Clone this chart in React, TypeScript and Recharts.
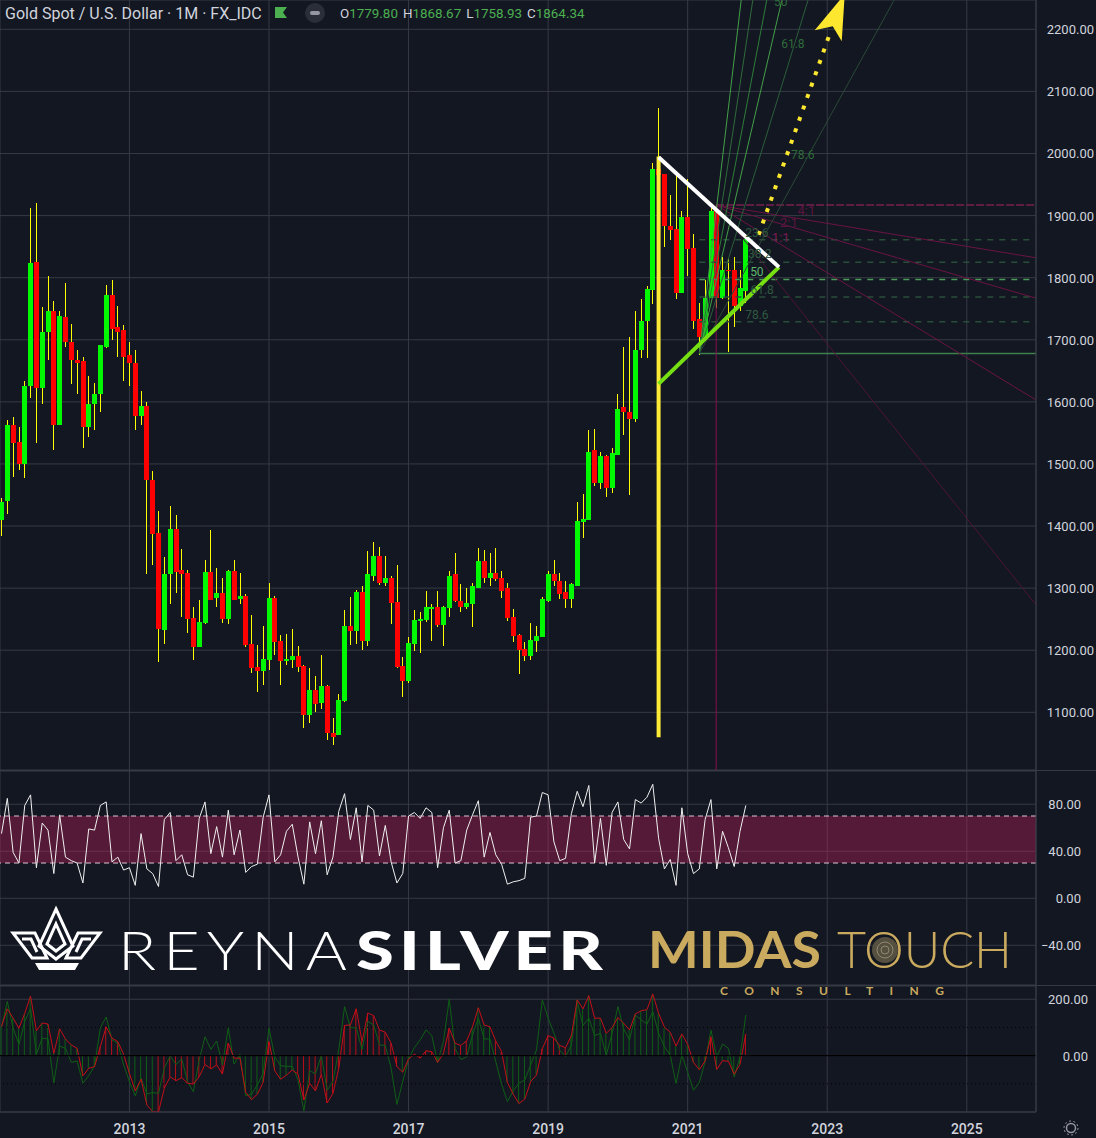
import React from 'react';
import {
  Bar,
  CartesianGrid,
  Cell,
  ComposedChart,
  Line,
  ReferenceArea,
  ReferenceDot,
  ReferenceLine,
  XAxis,
  YAxis,
} from 'recharts';

// monthly candles, Mar 2011 .. Nov 2021
const opens = [1410,1440,1563,1536,1500,1625,1825,1622,1712,1746,1563,1736,1697,1668,1665,1559,1596,1612,1689,1772,1720,1715,1675,1663,1578,1594,1474,1388,1233,1322,1395,1329,1324,1252,1205,1244,1326,1284,1292,1250,1327,1282,1287,1210,1173,1167,1184,1284,1215,1183,1184,1191,1175,1096,1136,1115,1143,1067,1063,1119,1239,1231,1293,1215,1320,1351,1308,1316,1277,1175,1151,1210,1247,1249,1266,1269,1240,1268,1322,1280,1269,1274,1301,1344,1317,1325,1316,1300,1253,1224,1202,1191,1215,1221,1280,1322,1312,1293,1282,1304,1407,1410,1523,1470,1512,1462,1515,1592,1584,1573,1684,1730,1780,1975,1967,1884,1878,1775,1897,1847,1734,1705,1767,1907,1768,1813,1813,1755,1778];
const highs = [1445,1570,1576,1559,1633,1912,1921,1752,1802,1763,1747,1791,1726,1683,1672,1641,1630,1692,1788,1796,1754,1723,1697,1684,1617,1600,1488,1424,1350,1433,1417,1363,1329,1270,1281,1346,1393,1332,1316,1330,1346,1324,1290,1257,1209,1239,1308,1287,1225,1226,1234,1207,1176,1172,1159,1193,1144,1091,1130,1265,1286,1297,1304,1359,1375,1367,1352,1320,1338,1189,1221,1265,1261,1296,1274,1296,1272,1327,1357,1306,1300,1308,1365,1362,1357,1365,1327,1309,1266,1226,1213,1244,1239,1285,1327,1346,1325,1311,1308,1439,1452,1555,1557,1520,1515,1525,1612,1689,1704,1747,1765,1786,1984,2074,1967,1933,1963,1907,1959,1871,1760,1797,1912,1917,1834,1831,1834,1813,1868];
const lows = [1384,1420,1479,1491,1478,1607,1533,1596,1667,1523,1563,1688,1628,1612,1526,1544,1555,1584,1686,1699,1673,1634,1626,1554,1562,1322,1338,1181,1210,1274,1292,1254,1228,1185,1205,1242,1281,1269,1244,1242,1281,1274,1205,1164,1133,1144,1168,1193,1144,1176,1172,1165,1075,1083,1101,1106,1055,1048,1063,1117,1209,1210,1200,1207,1311,1305,1303,1242,1172,1125,1148,1199,1196,1245,1215,1237,1207,1253,1277,1261,1266,1237,1301,1308,1303,1311,1284,1247,1213,1162,1183,1185,1197,1221,1277,1303,1282,1268,1268,1304,1381,1410,1465,1459,1446,1454,1515,1547,1450,1568,1670,1670,1757,1863,1849,1860,1765,1775,1802,1717,1676,1705,1767,1751,1765,1681,1721,1747,1759];
const closes = [1439,1563,1533,1500,1626,1823,1622,1713,1746,1563,1738,1696,1667,1663,1559,1597,1613,1691,1772,1718,1713,1673,1662,1578,1594,1474,1387,1234,1322,1396,1326,1322,1250,1205,1245,1326,1281,1292,1250,1327,1281,1287,1209,1172,1167,1186,1284,1213,1183,1186,1191,1173,1095,1136,1114,1143,1066,1061,1120,1239,1231,1294,1215,1322,1351,1308,1316,1276,1173,1151,1212,1249,1250,1269,1269,1240,1269,1320,1279,1269,1276,1303,1344,1317,1325,1314,1296,1252,1223,1200,1191,1216,1223,1282,1322,1312,1290,1282,1306,1408,1412,1520,1470,1512,1462,1517,1589,1584,1573,1684,1730,1781,1975,1965,1883,1876,1775,1897,1846,1731,1705,1768,1907,1768,1813,1812,1755,1783,1863];

const rsiValues = [55,85,39,30,79,88,26,64,58,21,71,35,32,30,13,59,58,79,82,31,35,24,26,11,55,25,21,10,67,73,32,37,20,18,68,82,38,61,35,75,37,58,22,27,29,69,88,31,37,57,63,35,12,65,38,66,20,35,74,89,50,77,31,79,75,36,62,31,13,21,70,73,68,77,73,26,60,75,30,32,58,71,83,35,56,37,29,12,14,15,17,69,70,90,88,48,32,34,72,91,78,96,30,68,28,73,82,50,42,84,81,86,97,51,25,33,11,77,38,21,25,67,84,25,57,43,27,57,79];

const fastValues = [103,192,97,40,121,168,5,62,59,-97,34,26,-24,-19,-98,-71,-37,99,137,56,44,-33,-92,-143,-80,-136,-131,-134,-45,-1,-31,-12,-92,-128,-15,67,22,52,-33,99,-30,5,-142,-137,-104,-63,97,-4,-36,-38,-38,-86,-196,-54,-64,0,-123,-92,20,174,99,99,22,121,109,38,36,-45,-173,-92,-12,28,56,91,71,-24,50,200,24,-14,-4,73,133,59,59,-21,-102,-163,-124,-98,-86,-33,20,198,133,79,20,-4,38,192,107,133,71,79,2,79,174,95,56,144,127,112,156,79,32,2,-99,2,-59,-123,-96,-21,90,-4,41,26,-76,-4,144];
const slowValues = [103,166,133,97,150,211,88,116,112,8,95,59,38,26,-72,-45,-39,32,102,62,50,5,-63,-125,-84,-175,-199,-200,-116,-75,-89,-78,-98,-101,-75,-31,-47,-33,-65,44,-9,-9,-130,-156,-137,-95,50,-54,-84,-69,-51,-66,-157,-98,-125,-66,-168,-134,-45,107,109,166,50,151,142,91,83,44,-39,-59,-12,5,-9,17,14,-24,8,97,44,36,53,103,170,109,102,52,14,-95,-137,-170,-154,-92,-69,24,71,62,36,28,71,198,166,213,133,133,79,99,135,115,91,148,159,163,219,150,101,83,34,77,40,-24,-50,-19,67,-49,-18,-20,-66,-31,76];
// month ranges whose histogram stem is drawn red
const redStemRuns = [[17,20],[27,39],[46,46],[51,68],[71,74],[77,80],[85,86],[93,97],[122,122],[128,128]];

const yearLabels = ['2013','2015','2017','2019','2021','2023','2025'];
const yearMonths = [22,46,70,94,118,142,166];
const priceTicks = [1100,1200,1300,1400,1500,1600,1700,1800,1900,2000,2100,2200];
const rsiTicks = [80,40,0,-40];
const cciTicks = [200,0,-200];

// drawings, in month / price coordinates
const fanOrigin = [120,1678];
const fanEnds = [[127.2,2247],[129.2,2247],[131.6,2247],[134.2,2247],[138.7,2247],[153.5,2247]];
const gannOrigin = [122.9,1917];
const gannEnds = [[177.9,1832],[177.9,1767],[177.9,1603],[177.9,1273],[165.2,1007]];
const fibLevels = [1861,1825,1797,1769,1729];
const fanLabels = [['50',134,2245],['61.8',136.1,2176],['78.6',137.8,1998]];
const fibLabels = [['23.6',129.9,1872],['38.2',130.4,1838],['50',129.9,1810],['61.8',130.8,1780],['78.6',129.9,1740]];
const gannLabels = [['4:1',138.4,1908],['2:1',135.4,1889],['1:1',134,1865]];

const candles = opens.map((open, month) => ({
  month,
  open,
  close: closes[month],
  range: [lows[month], highs[month]],
}));
const oscillators = rsiValues.map((rsi, month) => ({
  month,
  rsi,
  fast: fastValues[month],
  slow: slowValues[month],
}));

const BG = '#131722';
const GRID = '#363a45';
const FONT = 'Roboto, sans-serif';
const TEXT = '#d1d4dc';
const xDomain = [-0.258, 177.9];
const fanColors = ['#43a047','#2f6b3a','#2f7d3a','#43a047','#2c5f3a','#2a4a36'];
const fibColors = ['#2a4f38','#2a4f38','#4c9a5a','#2a4f38','#2a4f38'];

function Candle(props: any) {
  const { x, y, width, height, payload } = props;
  const [low, high] = payload.range;
  const perUnit = height / (high - low);
  const top = y + (high - Math.max(payload.open, payload.close)) * perUnit;
  const bottom = y + (high - Math.min(payload.open, payload.close)) * perUnit;
  const cx = Math.round(x + width / 2);
  return (
    <g shapeRendering="crispEdges">
      <rect x={cx} y={y} width={1} height={height} fill="#ffff00" />
      <rect
        x={cx - 2}
        y={top}
        width={5}
        height={Math.max(bottom - top, 1)}
        fill={payload.close >= payload.open ? '#00f900' : '#ff0000'}
      />
    </g>
  );
}

const priceTick = (right: number) => (props: any) => (
  <text x={right} y={props.y + 5} textAnchor="end" fontSize={13} fontFamily={FONT} fill={TEXT}>
    {Number(props.payload.value).toFixed(2).replace('-', '\u2212')}
  </text>
);

function ArrowLine(props: any) {
  const { x1, y1, x2, y2 } = props;
  return (
    <g>
      <line x1={x1} y1={y1} x2={x2} y2={y2} stroke="#fde82f" strokeWidth={4} strokeDasharray="4 8.1" />
      <polygon
        points={`${x2 + 14},${y2 - 37} ${x2 - 16},${y2 - 1} ${x2 + 2},${y2 - 5} ${x2 + 11},${y2 + 10}`}
        fill="#fde82f"
      />
    </g>
  );
}

function textDot(label: any, fill: string, fontSize = 12) {
  return (
    <ReferenceDot
      key={`${label[0]}-${label[1]}`}
      x={label[1]}
      y={label[2]}
      r={0}
      stroke="none"
      fill="none"
      ifOverflow="hidden"
      label={{ value: label[0], position: 'center', fill, fontSize, fontFamily: FONT }}
    />
  );
}

function PriceChart() {
  return (
    <ComposedChart width={1096} height={770} data={candles} margin={{ top: 0, right: 0, bottom: 0, left: 0 }}>
      <CartesianGrid stroke={GRID} />
      <XAxis type="number" dataKey="month" domain={xDomain} ticks={yearMonths} allowDataOverflow hide />
      <YAxis
        orientation="right"
        width={60}
        domain={[1007.1, 2247.2]}
        ticks={priceTicks}
        interval={0}
        allowDataOverflow
        axisLine={{ stroke: GRID }}
        tickLine={false}
        tick={priceTick(1094)}
      />
      {fibLevels.map((level, i) => (
        <ReferenceLine
          key={level}
          segment={[{ x: fanOrigin[0], y: level }, { x: xDomain[1], y: level }]}
          stroke={fibColors[i]}
          strokeWidth={1.5}
          strokeDasharray="6 6"
        />
      ))}
      <ReferenceLine segment={[{ x: fanOrigin[0], y: fanOrigin[1] }, { x: xDomain[1], y: fanOrigin[1] }]} stroke="#3f7f4c" strokeWidth={1.5} />
      <ReferenceLine segment={[{ x: gannOrigin[0], y: gannOrigin[1] }, { x: xDomain[1], y: gannOrigin[1] }]} stroke="#7a2050" strokeWidth={1.5} strokeDasharray="8 2" />
      <ReferenceLine segment={[{ x: gannOrigin[0], y: gannOrigin[1] }, { x: gannOrigin[0], y: 1007.1 }]} stroke="#880e4f" />
      {gannEnds.map((end, i) => (
        <ReferenceLine
          key={end.join()}
          segment={[{ x: gannOrigin[0], y: gannOrigin[1] }, { x: end[0], y: end[1] }]}
          stroke={i < 3 ? '#6b1445' : '#4d1436'}
        />
      ))}
      {fanEnds.map((end, i) => (
        <ReferenceLine
          key={end.join()}
          segment={[{ x: fanOrigin[0], y: fanOrigin[1] }, { x: end[0], y: end[1] }]}
          stroke={fanColors[i]}
        />
      ))}
      {fanLabels.map((label) => textDot(label, '#2f6b3a'))}
      {fibLabels.map((label, i) => textDot(label, i === 2 ? '#5fb56e' : '#2f5a40'))}
      {gannLabels.map((label, i) => textDot(label, i === 2 ? '#7a1a52' : '#5e1440', 13))}
      <Bar dataKey="range" barSize={5} shape={Candle} isAnimationActive={false} />
      <ReferenceLine segment={[{ x: 113, y: 1060 }, { x: 113, y: 1995 }]} stroke="#fdeb37" strokeWidth={4} />
      <ReferenceLine segment={[{ x: 113, y: 1629 }, { x: 133.7, y: 1817 }]} stroke="#76e012" strokeWidth={4} />
      <ReferenceLine segment={[{ x: 113, y: 1994 }, { x: 133.7, y: 1817 }]} stroke="#ffffff" strokeWidth={4} />
      <ReferenceLine segment={[{ x: 130.2, y: 1869 }, { x: 142.6, y: 2197 }]} shape={ArrowLine} />
    </ComposedChart>
  );
}

function RsiChart() {
  return (
    <ComposedChart width={1096} height={214} data={oscillators} margin={{ top: 0, right: 0, bottom: 0, left: 0 }}>
      <CartesianGrid stroke={GRID} />
      <XAxis type="number" dataKey="month" domain={xDomain} ticks={yearMonths} allowDataOverflow hide />
      <YAxis
        orientation="right"
        width={60}
        domain={[-73.8, 108.3]}
        ticks={rsiTicks}
        interval={0}
        allowDataOverflow
        axisLine={{ stroke: GRID }}
        tickLine={false}
        tick={priceTick(1081)}
      />
      <Line dataKey="rsi" stroke="#f0f0f0" strokeWidth={1} dot={false} isAnimationActive={false} />
      <ReferenceArea y1={30} y2={70} fill="#d21f61" fillOpacity={0.35} stroke="none" />
      <ReferenceLine y={70} stroke="#e0c4d0" strokeDasharray="5 4" />
      <ReferenceLine y={30} stroke="#e0c4d0" strokeDasharray="5 4" />
    </ComposedChart>
  );
}

function isRedStem(month: number) {
  return redStemRuns.some(([from, to]) => month >= from && month <= to);
}

function CciChart() {
  return (
    <ComposedChart width={1096} height={152} data={oscillators} margin={{ top: 0, right: 0, bottom: 0, left: 0 }}>
      <CartesianGrid stroke={GRID} />
      <XAxis
        type="number"
        dataKey="month"
        domain={xDomain}
        ticks={yearMonths}
        interval={0}
        allowDataOverflow
        height={26}
        axisLine={{ stroke: GRID }}
        tickLine={false}
        tickMargin={6}
        tick={{ fill: TEXT, fontSize: 14, fontFamily: FONT, fontWeight: 500 }}
        tickFormatter={(month: number) => yearLabels[yearMonths.indexOf(month)]}
      />
      <YAxis
        orientation="right"
        width={60}
        domain={[-200, 247]}
        ticks={cciTicks}
        interval={0}
        allowDataOverflow
        axisLine={{ stroke: GRID }}
        tickLine={false}
        tick={(props: any) => (props.payload.value === -200 ? <g /> : priceTick(1088)(props))}
      />
      <ReferenceLine y={100} stroke="#000000" strokeDasharray="1 3" />
      <ReferenceLine y={-100} stroke="#000000" strokeDasharray="1 3" />
      <Bar dataKey="slow" barSize={1} isAnimationActive={false}>
        {oscillators.map((row) => (
          <Cell key={row.month} fill={isRedStem(row.month) ? '#b80f18' : '#0f5f15'} />
        ))}
      </Bar>
      <Line dataKey="fast" stroke="#0f5f15" strokeWidth={1} dot={false} isAnimationActive={false} />
      <Line dataKey="slow" stroke="#c40f18" strokeWidth={1} dot={false} isAnimationActive={false} />
      <ReferenceLine y={0} stroke="#000000" strokeWidth={1.2} />
    </ComposedChart>
  );
}

function Pane({ top, children }: { top: number; children: React.ReactNode }) {
  return <div style={{ position: 'absolute', left: 0, top }}>{children}</div>;
}

function Header() {
  const green = '#4caf50';
  const pair = (letter: string, value: string) => (
    <span style={{ marginRight: 5 }}>
      <span style={{ color: TEXT }}>{letter}</span>
      {value}
    </span>
  );
  return (
    <>
      <div style={{ position: 'absolute', left: 5, top: 4, font: `16px ${FONT}`, color: TEXT, whiteSpace: 'pre' }}>
        Gold Spot / U.S. Dollar · 1M · FX_IDC
      </div>
      <div style={{ position: 'absolute', left: 340, top: 6, font: `13.4px ${FONT}`, color: green, whiteSpace: 'pre' }}>
        {pair('O', '1779.80')}
        {pair('H', '1868.67')}
        {pair('L', '1758.93')}
        {pair('C', '1864.34')}
      </div>
    </>
  );
}

// logos and small icons laid over the panes
function Overlay() {
  const gold = '#c9aa5e';
  return (
    <svg width={1096} height={1138} style={{ position: 'absolute', left: 0, top: 0, pointerEvents: 'none' }}>
      <polygon points="275,7 287,7 283,12.5 287,18 275,18" fill="#4caf50" />
      <circle cx={315} cy={13} r={10} fill="#2a2e39" />
      <rect x={310} y={11} width={10} height={4} rx={2} fill="#9598a1" />

      <g fill="none" stroke="#ffffff" strokeWidth={3}>
        <path d="M13 933 H35 L47 958 H32 Z" />
        <path d="M100 933 H78 L66 958 H81 Z" />
        <path d="M22 939 H31 L37 952" />
        <path d="M91 939 H82 L76 952" />
        <path d="M56 909 L73 946 L56 959 L39 946 Z" />
        <path d="M56 924 L65 944 L56 951 L47 944 Z" />
      </g>
      <polygon points="35,963 79,963 75,970 39,970" fill="#ffffff" />
      <text x={118} y={970} fontFamily="Lato" fontWeight={300} fontSize={53} letterSpacing={6} fill="#ffffff" textLength={236} lengthAdjust="spacingAndGlyphs">
        REYNA
      </text>
      <text x={356} y={970} fontFamily="Lato" fontWeight={900} fontSize={53} letterSpacing={4} fill="#ffffff" textLength={252} lengthAdjust="spacingAndGlyphs">
        SILVER
      </text>
      <text x={648} y={968} fontFamily="Lato" fontWeight={700} fontSize={51} fill={gold} textLength={173} lengthAdjust="spacingAndGlyphs">
        MIDAS
      </text>
      <text x={837} y={968} fontFamily="Lato" fontWeight={300} fontSize={51} fill={gold} textLength={175} lengthAdjust="spacingAndGlyphs">
        TOUCH
      </text>
      <circle cx={885} cy={950} r={13} fill="#55503f" />
      <circle cx={885} cy={950} r={8} fill="none" stroke="#8f8870" strokeWidth={1} />
      <circle cx={885} cy={950} r={4} fill="none" stroke="#8f8870" strokeWidth={1} />
      <text x={720} y={995} fontFamily="Lato" fontWeight={700} fontSize={12} fill={gold} textLength={224} lengthAdjust="spacing">
        CONSULTING
      </text>

      <circle cx={1071} cy={1128} r={4.5} fill="none" stroke="#9598a1" strokeWidth={1.5} />
      <circle cx={1071} cy={1128} r={7} fill="none" stroke="#9598a1" strokeWidth={1} strokeDasharray="2 2.4" />
    </svg>
  );
}

export default function App() {
  return (
    <div style={{ position: 'absolute', left: 0, top: 0, width: 1096, height: 1138, background: BG, overflow: 'hidden' }}>
      <Pane top={0}><PriceChart /></Pane>
      <div style={{ position: 'absolute', left: 0, top: 770, width: 1096, height: 1, background: GRID }} />
      <Pane top={771}><RsiChart /></Pane>
      <div style={{ position: 'absolute', left: 0, top: 985, width: 1096, height: 1, background: GRID }} />
      <Pane top={986}><CciChart /></Pane>
      <Header />
      <Overlay />
    </div>
  );
}
